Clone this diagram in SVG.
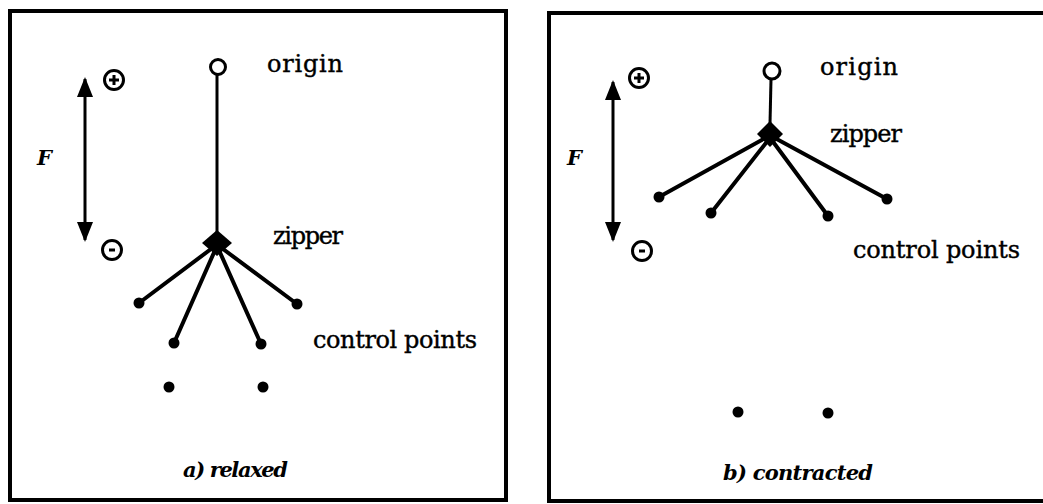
<svg xmlns="http://www.w3.org/2000/svg" width="1043" height="504" viewBox="0 0 1043 504">
<style>
.frame{fill:none;stroke:#000;stroke-width:4}
.lbl{font-family:"DejaVu Serif","Liberation Serif",serif;font-size:24px;fill:#000;stroke:#000;stroke-width:0.4}
.cap{font-family:"DejaVu Serif","Liberation Serif",serif;font-size:21px;font-style:italic;font-weight:bold;fill:#000}
.F{font-family:"DejaVu Serif","Liberation Serif",serif;font-size:21px;font-style:italic;font-weight:bold;fill:#000}
.spoke{stroke:#000;stroke-width:4;stroke-linecap:round}
.stem{stroke:#000;stroke-width:3}
.arrow{stroke:#000;stroke-width:3}
.sign{fill:none;stroke:#000;stroke-width:3}
.dot{fill:#000}
.origin{fill:#fff;stroke:#000;stroke-width:3}
</style>
<defs>
<marker id="ah" viewBox="0 0 20 16" refX="18" refY="8" markerWidth="20" markerHeight="16" markerUnits="userSpaceOnUse" orient="auto-start-reverse">
<path d="M0,0 L20,8 L0,16 Z" fill="#000"/>
</marker>
</defs>
<g id="panel-a">
<rect class="frame" x="10" y="11" width="496" height="489"/>
<g id="connectors-a">
<line class="arrow" x1="85" y1="79" x2="85" y2="240" marker-start="url(#ah)" marker-end="url(#ah)"/>
<line class="stem" x1="217" y1="74" x2="217" y2="235"/>
<line class="spoke" x1="215" y1="246" x2="139" y2="303"/>
<line class="spoke" x1="216" y1="248" x2="174" y2="343"/>
<line class="spoke" x1="218" y1="248" x2="261" y2="344"/>
<line class="spoke" x1="219" y1="246" x2="297" y2="304"/>
</g>
<g id="force-a">
<text class="F" x="37" y="165">F</text>
<g id="plus-a"><circle class="sign" cx="114" cy="80" r="9.5"/><line class="sign" x1="109" y1="80" x2="119" y2="80" stroke-width="2.5"/><line class="sign" x1="114" y1="75" x2="114" y2="85" stroke-width="2.5"/></g>
<g id="minus-a"><circle class="sign" cx="112" cy="250" r="9.5"/><line class="sign" x1="109" y1="250" x2="115" y2="250" stroke-width="2.5"/></g>
</g>
<g id="origin-a"><circle class="origin" cx="218" cy="67" r="7.5"/><text class="lbl" x="267" y="72" textLength="76">origin</text></g>
<g id="zipper-a"><path d="M217,230 L232,243 L217,256 L202,243 Z" fill="#000"/><text class="lbl" x="273" y="244" textLength="70">zipper</text></g>
<g id="cp-a">
<circle class="dot" cx="139" cy="303" r="5.5"/>
<circle class="dot" cx="174" cy="343" r="5.5"/>
<circle class="dot" cx="261" cy="344" r="5.5"/>
<circle class="dot" cx="297" cy="304" r="5.5"/>
<circle class="dot" cx="169" cy="387" r="5.5"/>
<circle class="dot" cx="263" cy="387" r="5.5"/>
<text class="lbl" x="313" y="348" textLength="164">control points</text>
</g>
<text class="cap" x="183" y="477" textLength="105">a) relaxed</text>
</g>
<g id="panel-b">
<path class="frame" d="M1043,13 L549,13 L549,501 L1043,501"/>
<g id="connectors-b">
<line class="arrow" x1="613" y1="82" x2="613" y2="240" marker-start="url(#ah)" marker-end="url(#ah)"/>
<line class="stem" x1="771" y1="79" x2="770" y2="124"/>
<line class="spoke" x1="767" y1="137" x2="659" y2="197"/>
<line class="spoke" x1="769" y1="139" x2="711" y2="213"/>
<line class="spoke" x1="771" y1="139" x2="828" y2="216"/>
<line class="spoke" x1="773" y1="137" x2="887" y2="199"/>
</g>
<g id="force-b">
<text class="F" x="567" y="165">F</text>
<g id="plus-b"><circle class="sign" cx="639" cy="78" r="9.5"/><line class="sign" x1="634" y1="78" x2="644" y2="78" stroke-width="2.5"/><line class="sign" x1="639" y1="73" x2="639" y2="83" stroke-width="2.5"/></g>
<g id="minus-b"><circle class="sign" cx="642" cy="251" r="9.5"/><line class="sign" x1="639" y1="251" x2="645" y2="251" stroke-width="2.5"/></g>
</g>
<g id="origin-b"><circle class="origin" cx="772" cy="71" r="8"/><text class="lbl" x="820" y="75" textLength="78">origin</text></g>
<g id="zipper-b"><path d="M770,121 L783,134 L770,147 L757,134 Z" fill="#000"/><text class="lbl" x="830" y="142" textLength="72">zipper</text></g>
<g id="cp-b">
<circle class="dot" cx="659" cy="197" r="5.5"/>
<circle class="dot" cx="711" cy="213" r="5.5"/>
<circle class="dot" cx="828" cy="216" r="5.5"/>
<circle class="dot" cx="887" cy="199" r="5.5"/>
<circle class="dot" cx="738" cy="412" r="5.5"/>
<circle class="dot" cx="828" cy="413" r="5.5"/>
<text class="lbl" x="853" y="258" textLength="167">control points</text>
</g>
<text class="cap" x="723" y="480" textLength="150">b) contracted</text>
</g>
</svg>
